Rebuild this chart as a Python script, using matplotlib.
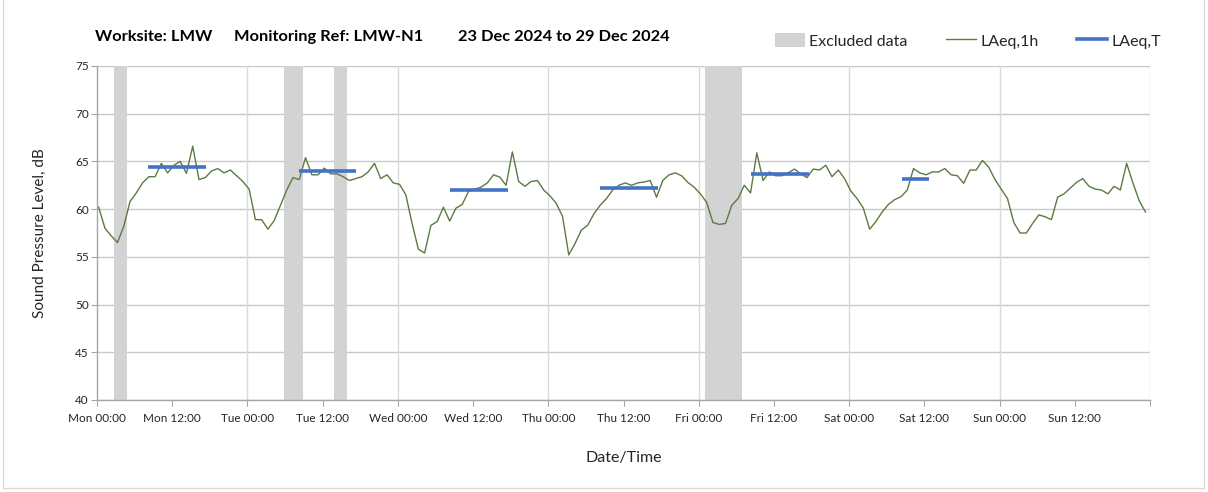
#!/usr/bin/env python3
"""
Noise monitoring chart - hourly LAeq with period LAeq,T and excluded data bands
"""

import numpy as np
import matplotlib
matplotlib.use("Agg")
import matplotlib.pyplot as plt
from matplotlib.patches import Patch, Rectangle
from matplotlib.lines import Line2D

# Hourly LAeq,1h values (dB), Mon 00:00 onwards
laeq_1h = [
    60.2, 58.0, 57.2, 56.5, 58.2, 60.8, 61.7, 62.75, 63.4, 63.4,
    64.8, 63.8, 64.6, 65.0, 63.75, 66.6, 63.1, 63.3, 64.0, 64.25,
    63.8, 64.1, 63.5, 62.9, 62.1, 58.9, 58.9, 57.9, 58.8, 60.4,
    62.0, 63.3, 63.1, 65.4, 63.6, 63.6, 64.3, 63.7, 63.7, 63.4,
    63.0, 63.2, 63.4, 63.9, 64.8, 63.2, 63.6, 62.75, 62.6, 61.5,
    58.5, 55.8, 55.4, 58.3, 58.7, 60.2, 58.75, 60.1, 60.5, 61.85,
    62.1, 62.3, 62.75, 63.6, 63.35, 62.5, 66.0, 62.9, 62.4, 62.9,
    63.0, 62.0, 61.4, 60.6, 59.25, 55.2, 56.4, 57.8, 58.3, 59.5,
    60.4, 61.1, 62.0, 62.5, 62.75, 62.5, 62.75, 62.85, 63.0, 61.25,
    63.0, 63.6, 63.8, 63.5, 62.8, 62.3, 61.6, 60.7, 58.6, 58.4,
    58.5, 60.4, 61.1, 62.5, 61.7, 65.9, 63.0, 63.9, 63.5, 63.5,
    63.8, 64.2, 63.7, 63.3, 64.2, 64.1, 64.6, 63.4, 64.1, 63.2,
    61.9, 61.1, 60.1, 57.9, 58.7, 59.7, 60.5, 61.0, 61.3, 62.0,
    64.25, 63.8, 63.6, 63.9, 63.9, 64.25, 63.6, 63.5, 62.7, 64.1,
    64.1, 65.1, 64.4, 63.1, 62.1, 61.1, 58.6, 57.5, 57.5, 58.5,
    59.4, 59.2, 58.9, 61.25, 61.6, 62.2, 62.8, 63.2, 62.4, 62.1,
    62.0, 61.6, 62.4, 62.0, 64.8, 62.75, 60.9, 59.7,
]
hour_offset = 0.27  # readings plotted a little after the hour

# Period LAeq,T: (start hour, end hour, level dB)
laeq_t_start = [8.1, 32.2, 56.3, 80.3, 104.4, 128.4]
laeq_t_end = [17.4, 41.4, 65.5, 89.5, 113.6, 132.7]
laeq_t_level = [64.4, 64.0, 62.0, 62.2, 63.7, 63.2]

# Excluded data periods (hours from Mon 00:00)
excl_start = [2.75, 29.8, 37.85, 96.95]
excl_end = [4.8, 32.8, 39.9, 102.9]

# Axis ticks
tick_hours = list(range(0, 169, 12))
tick_labels = ["Mon 00:00", "Mon 12:00", "Tue 00:00", "Tue 12:00",
               "Wed 00:00", "Wed 12:00", "Thu 00:00", "Thu 12:00",
               "Fri 00:00", "Fri 12:00", "Sat 00:00", "Sat 12:00",
               "Sun 00:00", "Sun 12:00", ""]
y_ticks = [40, 45, 50, 55, 60, 65, 70, 75]

# Title pieces and their left edges (px)
title_parts = ["Worksite: LMW", "Monitoring Ref: LMW-N1", "23 Dec 2024 to 29 Dec 2024"]
title_x = [95, 234, 458]

GREEN = "#5b7b42"
BLUE = "#4472c4"
BAND = "#d3d3d3"
TEXT = "#262626"

plt.rcParams['font.family'] = ['Lato', 'DejaVu Sans']


def main():
    W, H = 1208, 492
    fig = plt.figure(figsize=(W / 100, H / 100), dpi=100)
    fig.patch.set_facecolor("white")

    # thin frame round the chart
    fig.add_artist(Rectangle((3 / W, 4 / H), 1201 / W, 490 / H,
                             transform=fig.transFigure, fill=False,
                             edgecolor="#d9d9d9", linewidth=1))

    ax = fig.add_axes([97 / W, 1 - 400 / H, (1150 - 97) / W, (400 - 66) / H])

    # excluded bands
    for s, e in zip(excl_start, excl_end):
        ax.axvspan(s, e, color=BAND, linewidth=0, zorder=1)

    hours = np.arange(len(laeq_1h)) + hour_offset
    ax.plot(hours, laeq_1h, color=GREEN, linewidth=1.0, zorder=3)

    for s, e, lv in zip(laeq_t_start, laeq_t_end, laeq_t_level):
        ax.plot([s, e], [lv, lv], color=BLUE, linewidth=2.6,
                solid_capstyle="butt", zorder=4)

    ax.set_xlim(0, 168)
    ax.set_ylim(40, 75)

    # grid: horizontal every 5 dB, vertical at midnight
    for y in y_ticks:
        ax.axhline(y, color="#c8c8c8", linewidth=1.0, zorder=0.5)
    for d in range(24, 169, 24):
        ax.axvline(d, color="#dadada", linewidth=1.0, zorder=0.5)

    ax.set_xticks(tick_hours)
    ax.set_xticklabels(tick_labels, fontsize=8.5, color=TEXT)
    ax.set_yticks(y_ticks)
    ax.set_yticklabels([str(v) for v in y_ticks], fontsize=8.5, color=TEXT)
    ax.tick_params(axis="x", length=4, direction="out", color="#a6a6a6", pad=5)
    ax.tick_params(axis="y", length=4, direction="out", color="#a6a6a6", pad=2)

    for side in ["top", "right"]:
        ax.spines[side].set_visible(False)
    for side in ["left", "bottom"]:
        ax.spines[side].set_color("#a6a6a6")
        ax.spines[side].set_linewidth(1.0)

    ax.set_ylabel("Sound Pressure Level, dB", fontsize=11, color=TEXT, labelpad=20)
    ax.set_xlabel("Date/Time", fontsize=11.5, color=TEXT, labelpad=20)

    for txt, x in zip(title_parts, title_x):
        fig.text(x / W, 1 - 37 / H, txt, fontsize=11.8, fontweight="bold",
                 color="black", ha="left", va="center")

    handles = [
        Patch(facecolor=BAND, edgecolor="none"),
        Line2D([], [], color=GREEN, linewidth=1.0),
        Line2D([], [], color=BLUE, linewidth=2.6),
    ]
    fig.legend(handles, ["Excluded data", "LAeq,1h", "LAeq,T"],
               loc="center", bbox_to_anchor=(968 / W, 1 - 41 / H), ncol=3,
               frameon=False, fontsize=11.5, handlelength=1.9, handleheight=0.9,
               handletextpad=0.25, columnspacing=2.4, labelcolor=TEXT)

    fig.savefig("out.png", dpi=100, facecolor="white")


if __name__ == "__main__":
    main()
